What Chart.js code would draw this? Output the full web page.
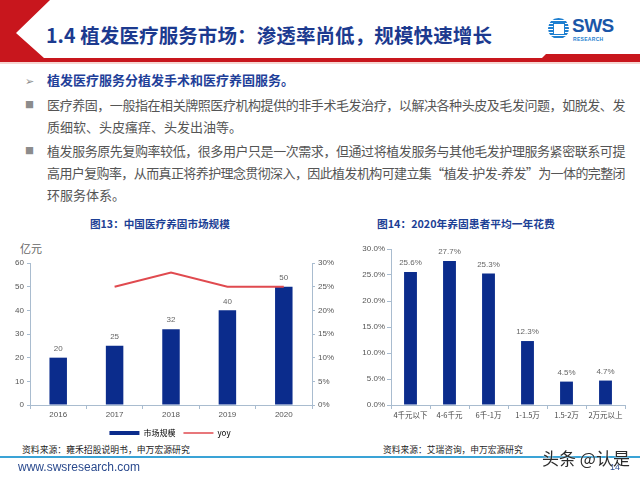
<!DOCTYPE html>
<html>
<head>
<meta charset="utf-8">
<script src="https://cdn.jsdelivr.net/npm/chart.js@4.4.0/dist/chart.umd.min.js"></script>
<style>
    html, body { margin: 0; padding: 0; background: #fff; }
    body { width: 640px; height: 480px; position: relative; overflow: hidden;
           font-family: "Noto Sans CJK SC", "Liberation Sans", sans-serif; }
    .abs { position: absolute; white-space: nowrap; }
    .title { left: 46px; top: 21px; font-size: 19.5px; font-weight: 700; color: #1c3a8f; line-height: 28px; }
    .bullet { left: 25px; color: #8c8c8c; font-size: 9px; line-height: 20px; }
    .line { left: 47px; font-size: 13px; color: #555; line-height: 20px; }
    .lead { color: #1f3f99; font-weight: 700; font-size: 13px; }
    .ctitle { font-size: 11px; font-weight: 700; color: #1d3f95; line-height: 16px; }
    .src { font-size: 9px; color: #222; line-height: 14px; }
</style>
</head>
<body>

<!-- header decoration -->
<svg class="abs" style="left:0;top:0" width="640" height="66">
    <polygon points="0,0 50,0 16,33 44,58 640,58 640,62 0,62" fill="#c8161d"/>
    <polygon points="546,54 640,54 640,62 538,62" fill="#c8161d"/>
    <rect x="0" y="62" width="640" height="2" fill="#f6d6d2"/>
</svg>
<div class="abs title" data-fit="446">1.4 植发医疗服务市场：渗透率尚低，规模快速增长</div>

<!-- logo -->
<div class="abs" style="left:548px;top:18px;width:21px;height:21px;border-radius:50%;
     background:repeating-linear-gradient(180deg,#1e7fd0 0 2px,#fff 2px 3px);"></div>
<div class="abs" style="left:553px;top:23px;width:10px;height:10px;background:#fff;border:1px solid #1e7fd0;"></div>
<div class="abs" style="left:572px;top:15px;font:900 19px 'Liberation Sans',sans-serif;color:#1a56a8;letter-spacing:-0.5px">SWS</div>
<div class="abs" style="left:573px;top:36px;font:700 5px 'Liberation Sans',sans-serif;color:#1e7fd0;letter-spacing:0.3px">RESEARCH</div>

<!-- body text -->
<div class="abs bullet" style="top:70px;font-size:11px;">➢</div>
<div class="abs line lead" style="top:70px;">植发医疗服务分植发手术和医疗养固服务。</div>
<div class="abs bullet" style="top:95px;">■</div>
<div class="abs line" data-fit="578" style="top:95px;">医疗养固，一般指在相关牌照医疗机构提供的非手术毛发治疗，以解决各种头皮及毛发问题，如脱发、发</div>
<div class="abs line" style="top:117px;">质细软、头皮瘙痒、头发出油等。</div>
<div class="abs bullet" style="top:141px;">■</div>
<div class="abs line" data-fit="578" style="top:141px;">植发服务原先复购率较低，很多用户只是一次需求，但通过将植发服务与其他毛发护理服务紧密联系可提</div>
<div class="abs line" data-fit="578" style="top:163px;">高用户复购率，从而真正将养护理念贯彻深入，因此植发机构可建立集“植发-护发-养发”为一体的完整闭</div>
<div class="abs line" style="top:185px;">环服务体系。</div>

<!-- chart titles / units / sources -->
<div class="abs ctitle" data-size="140" style="left:90px;top:216px;">图13：中国医疗养固市场规模</div>
<div class="abs ctitle" data-size="178" style="left:377px;top:216px;">图14：2020年养固患者平均一年花费</div>
<div class="abs" style="left:20px;top:240px;font-size:11px;color:#666;">亿元</div>
<div class="abs src" data-size="168" style="left:22px;top:443px;">资料来源：雍禾招股说明书，申万宏源研究</div>
<div class="abs src" data-size="140" style="left:383px;top:443px;">资料来源：艾瑞咨询，申万宏源研究</div>

<div class="abs" style="left:0;top:255px;width:340px;height:192px;">
    <canvas id="marketChart" width="340" height="192"></canvas>
</div>
<div class="abs" style="left:340px;top:240px;width:300px;height:190px;">
    <canvas id="costChart" width="300" height="190"></canvas>
</div>

<!-- footer -->
<div class="abs" style="left:0;top:456px;width:640px;height:2px;background:#3aa3d6;"></div>
<div class="abs" style="left:18px;top:460px;font:12px 'Liberation Sans',sans-serif;color:#2a4a8e;">www.swsresearch.com</div>
<div class="abs" style="left:610px;top:462px;font:9px 'Liberation Sans',sans-serif;color:#2a4a8e;">14</div>
<div class="abs" style="left:542px;top:445px;font-size:17px;color:#2b2b2b;text-shadow:0 0 2px #fff;">头条 @认是</div>

<script>
// ================================
// DATA
// ================================

const years = ['2016', '2017', '2018', '2019', '2020'];
const marketSize = [20, 25, 32, 40, 50];        // 亿元
const yoy = [null, 25, 28, 25, 25];              // %

const costBands = ['4千元以下', '4-6千元', '6千-1万', '1-1.5万', '1.5-2万', '2万元以上'];
const costShare = [25.6, 27.7, 25.3, 12.3, 4.5, 4.7];   // %

const BAR_BLUE = '#0b2c8c';
const LINE_RED = '#e04a4f';
const AXIS = '#a9bccf';
const TICK_FONT = { family: 'Liberation Sans', size: 8 };

// squeeze the long text lines to the slide's text width
document.querySelectorAll('[data-fit]').forEach(el => {
    const target = parseFloat(el.dataset.fit);
    const n = el.textContent.length;
    const w = el.getBoundingClientRect().width;
    el.style.letterSpacing = ((target - w) / n) + 'px';
});
// shrink short captions by font size instead
document.querySelectorAll('[data-size]').forEach(el => {
    const target = parseFloat(el.dataset.size);
    const fs = parseFloat(getComputedStyle(el).fontSize);
    const w = el.getBoundingClientRect().width;
    el.style.fontSize = (fs * target / w) + 'px';
});

// value labels above bars
const barValueLabels = {
    id: 'barValueLabels',
    afterDatasetsDraw(chart, args, opts) {
        const ctx = chart.ctx;
        chart.data.datasets.forEach((ds, i) => {
            if (ds.type && ds.type !== 'bar') return;
            const meta = chart.getDatasetMeta(i);
            meta.data.forEach((bar, j) => {
                ctx.save();
                ctx.font = '8px "Liberation Sans"';
                ctx.fillStyle = '#666';
                ctx.textAlign = 'center';
                ctx.textBaseline = 'bottom';
                ctx.fillText(opts.format(ds.data[j]), bar.x, bar.y - 5);
                ctx.restore();
            });
        });
    }
};

// ================================
// 图13 MARKET SIZE (bar + line)
// ================================

new Chart(document.getElementById('marketChart'), {
    data: {
        labels: years,
        datasets: [
            {
                type: 'bar',
                label: '市场规模',
                data: marketSize,
                backgroundColor: BAR_BLUE,
                categoryPercentage: 1,
                barPercentage: 0.31,
                yAxisID: 'y',
                order: 2
            },
            {
                type: 'line',
                label: 'yoy',
                data: yoy,
                borderColor: LINE_RED,
                borderWidth: 2,
                pointRadius: 0,
                tension: 0,
                yAxisID: 'y1',
                order: 1
            }
        ]
    },
    options: {
        responsive: false,
        animation: false,
        layout: { padding: { top: 8, left: 0, right: 0, bottom: 0 } },
        plugins: {
            tooltip: { enabled: false },
            barValueLabels: { format: v => String(v) },
            legend: {
                position: 'bottom',
                labels: {
                    usePointStyle: true,
                    pointStyleWidth: 30,
                    padding: 8,
                    boxHeight: 6,
                    color: '#666',
                    font: { family: 'Noto Sans CJK SC', size: 8 },
                    generateLabels: () => [
                        { text: '市场规模', pointStyle: 'line', strokeStyle: BAR_BLUE, fillStyle: BAR_BLUE, lineWidth: 4, datasetIndex: 0 },
                        { text: 'yoy', pointStyle: 'line', strokeStyle: LINE_RED, fillStyle: LINE_RED, lineWidth: 1.5, datasetIndex: 1 }
                    ]
                }
            }
        },
        scales: {
            x: {
                grid: { offset: true, drawOnChartArea: false, tickLength: 4, color: AXIS },
                border: { color: AXIS },
                ticks: { color: '#555', font: TICK_FONT, padding: 1, maxRotation: 0 },
                afterFit: s => { s.height = 16; }
            },
            y: {
                position: 'left',
                min: 0, max: 60,
                ticks: { stepSize: 10, color: '#555', font: TICK_FONT, padding: 3 },
                grid: { drawOnChartArea: false, tickLength: 3, color: AXIS },
                border: { color: AXIS },
                afterFit: s => { s.width = 30; }
            },
            y1: {
                position: 'right',
                min: 0, max: 30,
                ticks: { stepSize: 5, color: '#555', font: TICK_FONT, padding: 3, callback: v => v + '%' },
                grid: { drawOnChartArea: false, tickLength: 3, color: AXIS },
                border: { color: AXIS },
                afterFit: s => { s.width = 28; }
            }
        }
    },
    plugins: [barValueLabels]
});

// ================================
// 图14 ANNUAL COST SHARE (bar)
// ================================

new Chart(document.getElementById('costChart'), {
    type: 'bar',
    data: {
        labels: costBands,
        datasets: [{
            label: '占比',
            data: costShare,
            backgroundColor: BAR_BLUE,
            categoryPercentage: 1,
            barPercentage: 0.33
        }]
    },
    options: {
        responsive: false,
        animation: false,
        layout: { padding: { top: 9, left: 0, right: 15, bottom: 0 } },
        plugins: {
            legend: { display: false },
            tooltip: { enabled: false },
            barValueLabels: { format: v => v.toFixed(1) + '%' }
        },
        scales: {
            x: {
                grid: { offset: true, drawOnChartArea: false, tickLength: 4, color: AXIS },
                border: { color: AXIS },
                ticks: { color: '#444', font: { family: 'Noto Sans CJK SC', size: 7.5 }, padding: 2,
                         maxRotation: 0, autoSkip: false },
                afterFit: s => { s.height = 25; }
            },
            y: {
                min: 0, max: 30,
                ticks: { stepSize: 5, color: '#555', font: TICK_FONT, padding: 2, callback: v => v.toFixed(1) + '%' },
                grid: { drawOnChartArea: false, tickLength: 4, color: AXIS },
                border: { color: AXIS },
                afterFit: s => { s.width = 51; }
            }
        }
    },
    plugins: [barValueLabels]
});
</script>
</body>
</html>
